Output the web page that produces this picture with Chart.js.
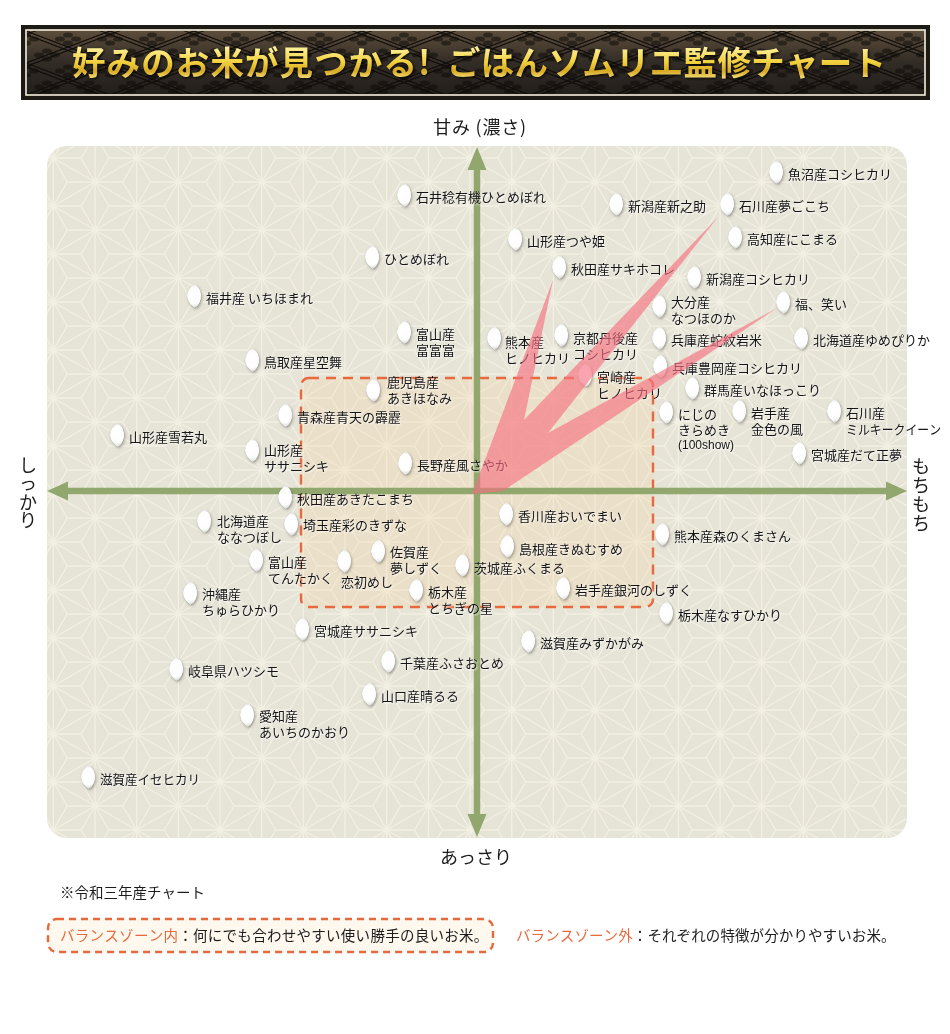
<!DOCTYPE html>
<html lang="ja">
<head>
<meta charset="utf-8">
<title>ごはんソムリエ監修チャート</title>
<style>html,body{margin:0;padding:0;background:#fff}canvas{display:block}</style>
<script src="https://cdn.jsdelivr.net/npm/chart.js@4"></script>
</head>
<body>
<canvas id="c" width="950" height="1034"></canvas>
<script>
const riceNames = ["魚沼産コシヒカリ","石井稔有機ひとめぼれ","新潟産新之助","石川産夢ごこち","高知産にこまる","山形産つや姫","ひとめぼれ","秋田産サキホコレ","新潟産コシヒカリ","福井産 いちほまれ","福、笑い","大分産\nなつほのか","富山産\n富富富","熊本産\nヒノヒカリ","京都丹後産\nコシヒカリ","兵庫産蛇紋岩米","北海道産ゆめぴりか","鳥取産星空舞","兵庫豊岡産コシヒカリ","宮崎産\nヒノヒカリ","鹿児島産\nあきほなみ","群馬産いなほっこり","にじの\nきらめき\n(100show)","岩手産\n金色の風","石川産\nミルキークイーン","青森産青天の霹靂","山形産雪若丸","山形産\nササニシキ","長野産風さやか","宮城産だて正夢","秋田産あきたこまち","北海道産\nななつぼし","埼玉産彩のきずな","香川産おいでまい","熊本産森のくまさん","島根産きぬむすめ","佐賀産\n夢しずく","富山産\nてんたかく","恋初めし","茨城産ふくまる","岩手産銀河のしずく","栃木産\nとちぎの星","沖縄産\nちゅらひかり","栃木産なすひかり","宮城産ササニシキ","滋賀産みずかがみ","千葉産ふさおとめ","岐阜県ハツシモ","山口産晴るる","愛知産\nあいちのかおり","滋賀産イセヒカリ"];
const riceX = [299,-73,139,250,258,38,-105,82,217,-283,306,182,-73,17,84,182,324,-225,183,108,-104,215,189,262,357,-192,-360,-225,-72,322,-192,-273,-186,29,185,30,-99,-221,-133,-15,86,-61,-287,189,-175,51,-89,-301,-108,-230,-389];
const riceY = [318,295,286,286,253,251,233,223,213,194,188,184,158,152,155,152,152,130,124,115,100,102,78,79,79,75,55,40,27,37,-7,-31,-34,-24,-44,-56,-61,-70,-71,-75,-98,-100,-103,-123,-139,-151,-171,-179,-204,-225,-287];
const wedgeX = [-5,76,47,241,71,300,26];
const wedgeY = [-3,211,71,274,58,183,0];
const zoneX = [-176,176];
const zoneY = [-116,113];
const axisX = [-430,430];
const axisY = [-347,345];
const axisTop = "甘み (濃さ)";
const axisBottom = "あっさり";
const axisLeft = "しっかり";
const axisRight = "もちもち";
const titleText = "好みのお米が見つかる! ごはんソムリエ監修チャート";
const noteText = "※令和三年産チャート";
const zoneInName = "バランスゾーン内";
const zoneInText = "：何にでも合わせやすい使い勝手の良いお米。";
const zoneOutName = "バランスゾーン外";
const zoneOutText = "：それぞれの特徴が分かりやすいお米。";

const labelOffset = {"大分産\nなつほのか":[12,-5],"熊本産\nヒノヒカリ":[11,3],"京都丹後産\nコシヒカリ":[12,2],"鹿児島産\nあきほなみ":[14,-9],"山形産\nササニシキ":[12,-1],"北海道産\nななつぼし":[13,-1],"島根産きぬむすめ":[12,2],"恋初めし":[-3,20],"茨城産ふくまる":[12,2],"佐賀産\n夢しずく":[12,0],"沖縄産\nちゅらひかり":[12,0],"愛知産\nあいちのかおり":[12,0],"埼玉産彩のきずな":[12,0]};
const lineFit = {"ミルキークイーン":95,"滋賀産イセヒカリ":100};
const JP = '"Noto Sans CJK JP","Noto Sans",sans-serif';

function grain(){
  const c=document.createElement('canvas');c.width=24;c.height=32;
  const g=c.getContext('2d');const x=12,y=15;
  const shape=()=>{g.beginPath();g.moveTo(x+1,y-11.5);g.bezierCurveTo(x+6,y-8,x+7.5,y-2,x+6.5,y+3);g.bezierCurveTo(x+5.5,y+8,x+3,y+10.5,x+0.5,y+11.5);g.bezierCurveTo(x-3,y+9,x-6.5,y+5,x-6.5,y);g.bezierCurveTo(x-6.5,y-5,x-3,y-9,x+1,y-11.5);g.closePath();};
  g.save();g.shadowColor='rgba(70,70,60,.5)';g.shadowBlur=3;g.shadowOffsetX=1;g.shadowOffsetY=1.5;g.fillStyle='#fff';shape();g.fill();g.restore();
  const r=g.createRadialGradient(x-2,y-2,2,x,y,12);r.addColorStop(0,'#ffffff');r.addColorStop(.65,'#fdfdfd');r.addColorStop(1,'#d6d6d6');
  g.fillStyle=r;shape();g.fill();
  return c;
}

const decor = {
  id:'decor',
  beforeDatasetsDraw(chart){
    const {ctx,scales:{x,y}}=chart;
    const L=x.getPixelForValue(axisX[0]),R=x.getPixelForValue(axisX[1]),B=y.getPixelForValue(axisY[0]),T=y.getPixelForValue(axisY[1]);
    const cx=x.getPixelForValue(0),cy=y.getPixelForValue(0);
    ctx.save();
    ctx.beginPath();ctx.roundRect(L,T,R-L,B-T,20);ctx.fillStyle='#e6e3d7';ctx.fill();ctx.clip();
    const ox=95,oy=182,dx=41.67,dy=24;
    ctx.strokeStyle='#f2efe3';ctx.lineWidth=1.4;ctx.beginPath();
    for(let i=-2;i<24;i++){for(let j=-12;j<20;j++){
      const px=ox+i*dx,py=oy+j*2*dy+(i%2?dy:0);
      const A=[[px,py],[px+dx,py+dy],[px,py+2*dy]],Bt=[[px,py],[px+dx,py-dy],[px+dx,py+dy]];
      for(const t of [A,Bt]){
        const gx=(t[0][0]+t[1][0]+t[2][0])/3,gy=(t[0][1]+t[1][1]+t[2][1])/3;
        for(let k=0;k<3;k++){ctx.moveTo(t[k][0],t[k][1]);ctx.lineTo(t[(k+1)%3][0],t[(k+1)%3][1]);ctx.moveTo(t[k][0],t[k][1]);ctx.lineTo(gx,gy);}
      }
    }}
    ctx.stroke();
    ctx.restore();
    const zl=x.getPixelForValue(zoneX[0]),zr=x.getPixelForValue(zoneX[1]),zt=y.getPixelForValue(zoneY[1]),zb=y.getPixelForValue(zoneY[0]);
    ctx.save();
    ctx.beginPath();ctx.roundRect(zl,zt,zr-zl,zb-zt,8);
    ctx.fillStyle='rgba(248,214,160,.24)';ctx.fill();
    ctx.setLineDash([10,7]);ctx.lineWidth=2.4;ctx.strokeStyle='#e9693e';ctx.stroke();
    ctx.restore();
    ctx.save();ctx.fillStyle='rgba(140,163,104,.95)';
    const w=3.2,h=21,hw=9.5;
    ctx.beginPath();
    ctx.moveTo(L,cy);ctx.lineTo(L+h,cy-hw);ctx.lineTo(L+h,cy-w);ctx.lineTo(R-h,cy-w);ctx.lineTo(R-h,cy-hw);ctx.lineTo(R,cy);ctx.lineTo(R-h,cy+hw);ctx.lineTo(R-h,cy+w);ctx.lineTo(L+h,cy+w);ctx.lineTo(L+h,cy+hw);ctx.closePath();ctx.fill();
    ctx.beginPath();
    ctx.moveTo(cx,T+1);ctx.lineTo(cx+hw,T+h+3);ctx.lineTo(cx+w,T+h+3);ctx.lineTo(cx+w,B-h-3);ctx.lineTo(cx+hw,B-h-3);ctx.lineTo(cx,B-1);ctx.lineTo(cx-hw,B-h-3);ctx.lineTo(cx-w,B-h-3);ctx.lineTo(cx-w,T+h+3);ctx.lineTo(cx-hw,T+h+3);ctx.closePath();ctx.fill();
    ctx.restore();
    ctx.save();ctx.fillStyle='#1c1c1c';ctx.textAlign='center';ctx.textBaseline='middle';
    ctx.font='18px '+JP;ctx.letterSpacing='0.8px';ctx.fillText(axisTop,480,127);ctx.letterSpacing='0px';ctx.fillText(axisBottom,476,857);
    [...axisLeft].forEach((ch,i)=>ctx.fillText(ch,28,465+i*18.5));
    [...axisRight].forEach((ch,i)=>ctx.fillText(ch,921,466+i*19));
    ctx.restore();
    drawHeader(ctx);
    ctx.save();ctx.textBaseline='middle';ctx.textAlign='left';
    ctx.font='14.5px '+JP;ctx.fillStyle='#1c1c1c';ctx.fillText(noteText,60,892);
    ctx.beginPath();ctx.roundRect(48,919,445,33,9);ctx.fillStyle='#fef8ee';ctx.fill();
    ctx.setLineDash([7,5]);ctx.lineWidth=2.4;ctx.strokeStyle='#e9693e';ctx.stroke();ctx.setLineDash([]);
    ctx.font='14.5px '+JP;
    ctx.letterSpacing='0.28px';
    ctx.fillStyle='#e9693e';ctx.fillText(zoneInName,60,935);
    let w1=ctx.measureText(zoneInName).width;
    ctx.fillStyle='#1c1c1c';ctx.fillText(zoneInText,60+w1,935);
    ctx.letterSpacing='0.1px';
    ctx.fillStyle='#e9693e';ctx.fillText(zoneOutName,516,935);
    w1=ctx.measureText(zoneOutName).width;
    ctx.fillStyle='#1c1c1c';ctx.fillText(zoneOutText,516+w1,935);
    ctx.restore();
  },
  afterDatasetDraw(chart,args){
    if(args.index!==0)return;
    const {ctx,scales:{x,y}}=chart;
    ctx.save();ctx.textBaseline='middle';ctx.textAlign='left';
    ctx.fillStyle='#151515';ctx.shadowColor='rgba(255,255,255,.95)';ctx.shadowBlur=2;ctx.shadowOffsetX=1;ctx.shadowOffsetY=1;
    riceNames.forEach((n,i)=>{
      const o=labelOffset[n]||[12,1];
      const px=x.getPixelForValue(riceX[i])+o[0],py=y.getPixelForValue(riceY[i])+o[1];
      n.split('\n').forEach((line,k)=>{
        ctx.font=line.startsWith('(')?'12px "Liberation Sans",sans-serif':'13px '+JP;
        if(lineFit[line])ctx.fillText(line,px,py+k*16,lineFit[line]);
        else ctx.fillText(line,px,py+k*16);
      });
    });
    ctx.restore();
  }
};

function drawHeader(ctx){
  ctx.save();
  ctx.fillStyle='#1d1a16';ctx.fillRect(21,25,909,75);
  ctx.beginPath();ctx.rect(26,30,899,65);
  const g=ctx.createLinearGradient(0,31,0,94);g.addColorStop(0,'#5c4d3b');g.addColorStop(.5,'#322c26');g.addColorStop(1,'#231f1b');
  ctx.fillStyle=g;ctx.fill();
  ctx.save();ctx.clip();
  const pw=84,ph=32;
  ctx.strokeStyle='rgba(16,14,11,.6)';ctx.lineWidth=1;
  for(let q=-2;q<16;q++){for(const off of [0,3.5]){
    ctx.beginPath();
    for(let r=-1;r<5;r++){
      const x0=26+q*pw,y0=31+r*ph+off;
      ctx.moveTo(x0-pw,y0-ph);ctx.lineTo(x0+pw*2,y0+ph*2);
      ctx.moveTo(x0-pw,y0+ph*2);ctx.lineTo(x0+pw*2,y0-ph);
    }
    ctx.stroke();
  }}
  ctx.fillStyle='rgba(14,12,10,.55)';
  for(let r=0;r<6;r++){for(let q=-1;q<24;q++){
    const mx=26+q*pw/2+(r%2?pw/4:0),my=31+r*ph/2+ph/4;
    for(const [a,b] of [[-8,0],[8,0],[0,-4],[0,4]]){ctx.beginPath();ctx.ellipse(mx+a,my+b,5,2.6,0,0,7);ctx.fill();}
  }}
  ctx.restore();
  ctx.lineWidth=1.6;ctx.strokeStyle='#f5efdc';ctx.strokeRect(26,30,899,65);
  ctx.font='700 33.5px '+JP;ctx.textBaseline='middle';ctx.textAlign='left';
  const t=ctx.createLinearGradient(0,44,0,80);t.addColorStop(0,'#fff7b0');t.addColorStop(.5,'#f2d13e');t.addColorStop(.75,'#d6a923');t.addColorStop(1,'#fbe88a');
  ctx.shadowColor='rgba(0,0,0,.85)';ctx.shadowBlur=3;ctx.shadowOffsetX=1;ctx.shadowOffsetY=1;
  ctx.fillStyle=t;
  const parts=titleText.split(' ');
  ctx.letterSpacing='1.1px';ctx.fillText(parts[0],72,62);
  ctx.letterSpacing='0.3px';ctx.fillText(parts[1],447,62);
  ctx.restore();
}

const ricePoints = riceX.map((v,i)=>({x:v,y:riceY[i]}));
const wedgePoints = wedgeX.map((v,i)=>({x:v,y:wedgeY[i]}));
new Chart(document.getElementById('c'),{
  type:'scatter',
  data:{datasets:[
    {label:'お米',data:ricePoints,pointStyle:grain(),pointRadius:12,order:1,clip:false},
    {label:'矢印',data:wedgePoints,showLine:true,fill:'shape',borderWidth:0,pointRadius:0,tension:0,backgroundColor:'rgba(246,112,128,.64)',borderColor:'rgba(0,0,0,0)',order:0,clip:false}
  ]},
  options:{
    responsive:false,animation:false,devicePixelRatio:1,events:[],
    layout:{padding:{left:47,right:43,top:146,bottom:196}},
    plugins:{legend:{display:false},tooltip:{enabled:false},title:{display:false}},
    scales:{
      x:{type:'linear',min:axisX[0],max:axisX[1],display:false},
      y:{type:'linear',min:axisY[0],max:axisY[1],display:false}
    }
  },
  plugins:[decor]
});
</script>
</body>
</html>
